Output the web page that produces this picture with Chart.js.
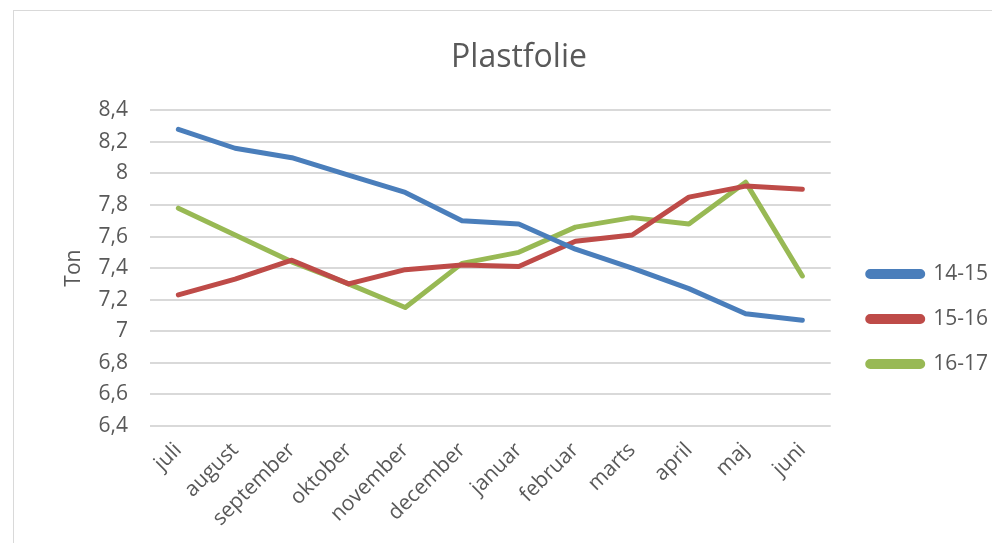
<!DOCTYPE html>
<html>
<head>
<meta charset="utf-8">
<script src="https://cdn.jsdelivr.net/npm/chart.js@4.4.1/dist/chart.umd.min.js"></script>
<style>
  html, body { margin: 0; padding: 0; background: #fff; }
  #wrap { position: relative; width: 992px; height: 543px; overflow: hidden; }
  #frame { position: absolute; left: 13px; top: 10px; width: 1000px; height: 600px; border: 1px solid #d9d9d9; box-sizing: border-box; }
  #myChart { position: absolute; left: 0; top: 0; }
</style>
</head>
<body>
<div id="wrap">
  <div id="frame"></div>
  <canvas id="myChart" width="992" height="543"></canvas>
</div>
<script>
const months = ["juli", "august", "september", "oktober", "november", "december", "januar", "februar", "marts", "april", "maj", "juni"]
const s1415 = [8.28, 8.16, 8.10, 7.99, 7.88, 7.70, 7.68, 7.52, 7.40, 7.27, 7.11, 7.07]
const s1516 = [7.23, 7.33, 7.45, 7.30, 7.39, 7.42, 7.41, 7.57, 7.61, 7.85, 7.92, 7.90]
const s1617 = [7.78, 7.61, 7.44, 7.30, 7.15, 7.43, 7.50, 7.66, 7.72, 7.68, 7.945, 7.35]

const grey = '#595959'
const font = "'Open Sans', 'Liberation Sans', sans-serif"

let makeSet = (label, data, color) => ({
  label: label,
  data: data,
  borderColor: color,
  backgroundColor: color,
  borderWidth: 5,
  pointRadius: 0,
  tension: 0,
  borderCapStyle: 'round',
  borderJoinStyle: 'round'
})

var ctx = document.getElementById("myChart")
var myChart = new Chart(ctx, {
  type: 'line',
  data: {
    labels: months,
    datasets: [
      makeSet("14-15", s1415, '#4a7ebb'),
      makeSet("15-16", s1516, '#be4b48'),
      makeSet("16-17", s1617, '#98b954')
    ]
  },
  options: {
    responsive: false,
    animation: false,
    layout: { padding: { left: 40, right: -6, top: 39, bottom: 8 } },
    plugins: {
      title: {
        display: true,
        text: 'Plastfolie',
        color: grey,
        font: { family: font, size: 32, weight: 'normal' },
        padding: { top: 0, bottom: 33 }
      },
      legend: {
        position: 'right',
        // empty title only pushes the entries down a bit
        title: { display: true, text: ' ', font: { size: 20 }, padding: { top: 0, bottom: 40 } },
        labels: {
          color: grey,
          font: { family: font, size: 21 },
          boxWidth: 55,
          boxHeight: 5,
          useBorderRadius: true,
          borderRadius: 2.5,
          padding: 24
        }
      },
      tooltip: { enabled: false }
    },
    scales: {
      x: {
        offset: true,
        grid: { display: false },
        border: { display: false },
        ticks: {
          color: grey,
          font: { family: font, size: 21 },
          minRotation: 45,
          maxRotation: 45,
          padding: 4
        }
      },
      y: {
        min: 6.4,
        max: 8.4,
        grid: { color: '#d9d9d9', lineWidth: 2, drawTicks: false },
        border: { display: false },
        title: {
          display: true,
          text: 'Ton',
          color: grey,
          font: { family: font, size: 21 },
          padding: { top: 21, bottom: 0 }
        },
        ticks: {
          stepSize: 0.2,
          color: grey,
          padding: 22,
          font: { family: font, size: 21 },
          callback: v => (Math.round(v * 10) / 10).toString().replace('.', ',')
        },
        afterFit: s => { s.width = 110 }
      },
      // spacer between plot and legend
      gap: {
        position: 'right',
        display: true,
        grid: { display: false },
        border: { display: false },
        ticks: { display: false },
        afterFit: s => { s.width = 13 }
      }
    }
  }
})
</script>
</body>
</html>
